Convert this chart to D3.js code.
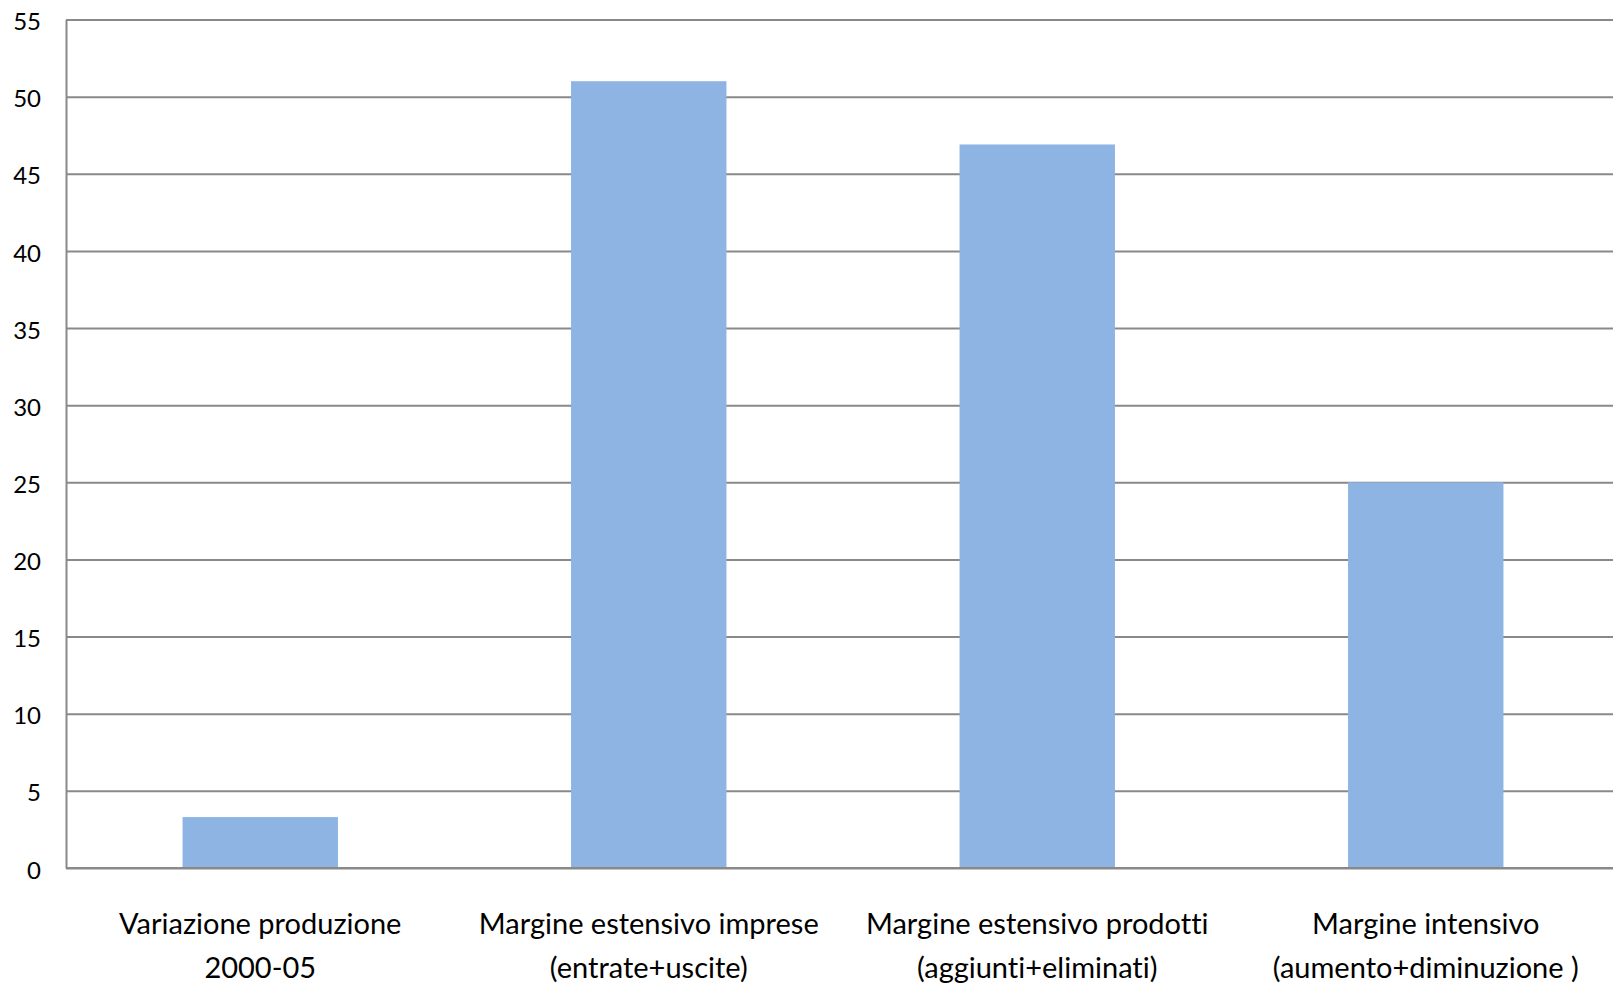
<!DOCTYPE html>
<html>
<head>
<meta charset="utf-8">
<script src="https://cdn.jsdelivr.net/npm/d3@7"></script>
<style>
  body { margin: 0; background: #fff; }
  text { font-family: Lato, "Open Sans", sans-serif; fill: #000; font-variant-ligatures: none; }
</style>
</head>
<body>
<svg id="chart" width="1613" height="986"></svg>
<script>
// data
var categories = [
  ["Variazione produzione", "2000-05"],
  ["Margine estensivo imprese", "(entrate+uscite)"],
  ["Margine estensivo prodotti", "(aggiunti+eliminati)"],
  ["Margine intensivo", "(aumento+diminuzione )"]
];
var values = [3.3, 51, 46.9, 25];
var yTicks = [0, 5, 10, 15, 20, 25, 30, 35, 40, 45, 50, 55];

var svg = d3.select("#chart"),
    plotLeft = 66, plotRight = 1620, plotTop = 19.5, plotBottom = 868;

var x = d3.scaleBand()
    .domain(d3.range(categories.length))
    .range([plotLeft, plotRight])
    .paddingInner(0.6)
    .paddingOuter(0.3);

var band = d3.scaleBand()
    .domain(d3.range(categories.length))
    .range([plotLeft, plotRight]);

var y = d3.scaleLinear().domain([0, 55]).range([plotBottom, plotTop]);

// gridlines
svg.append("g")
    .attr("transform", "translate(" + plotLeft + ",0)")
    .call(d3.axisRight(y).tickValues(yTicks).tickSize(plotRight - plotLeft).tickFormat(""))
    .call(function(g) { g.select(".domain").remove(); })
    .selectAll("line")
    .attr("stroke", "#898989")
    .attr("stroke-width", 2);

// bars
svg.selectAll(".bar").data(values).enter().append("rect")
    .attr("class", "bar")
    .attr("x", function(d, i) { return x(i); })
    .attr("width", x.bandwidth())
    .attr("y", function(d) { return y(d); })
    .attr("height", function(d) { return y(0) - y(d); })
    .attr("fill", "#8EB4E3");

// y axis
var yAxis = svg.append("g")
    .attr("transform", "translate(" + plotLeft + ",0)")
    .call(d3.axisLeft(y).tickValues(yTicks).tickSize(0).tickPadding(25));
yAxis.select(".domain").attr("stroke", "#898989").attr("stroke-width", 2);
yAxis.selectAll("text")
    .style("font-size", "24px")
    .style("font-family", "Lato, 'Open Sans', sans-serif")
    .attr("dy", "0.42em");

// x axis line
svg.append("line")
    .attr("x1", plotLeft).attr("x2", plotRight)
    .attr("y1", y(0)).attr("y2", y(0))
    .attr("stroke", "#898989")
    .attr("stroke-width", 2);

// category labels
var labels = svg.selectAll(".cat").data(categories).enter().append("text")
    .attr("class", "cat")
    .attr("text-anchor", "middle")
    .style("font-size", "29px");
labels.each(function(d, i) {
  var t = d3.select(this);
  d.forEach(function(line, j) {
    t.append("tspan")
      .attr("x", band(i) + band.bandwidth() / 2)
      .attr("y", 934 + j * 44)
      .text(line);
  });
});
</script>
</body>
</html>
